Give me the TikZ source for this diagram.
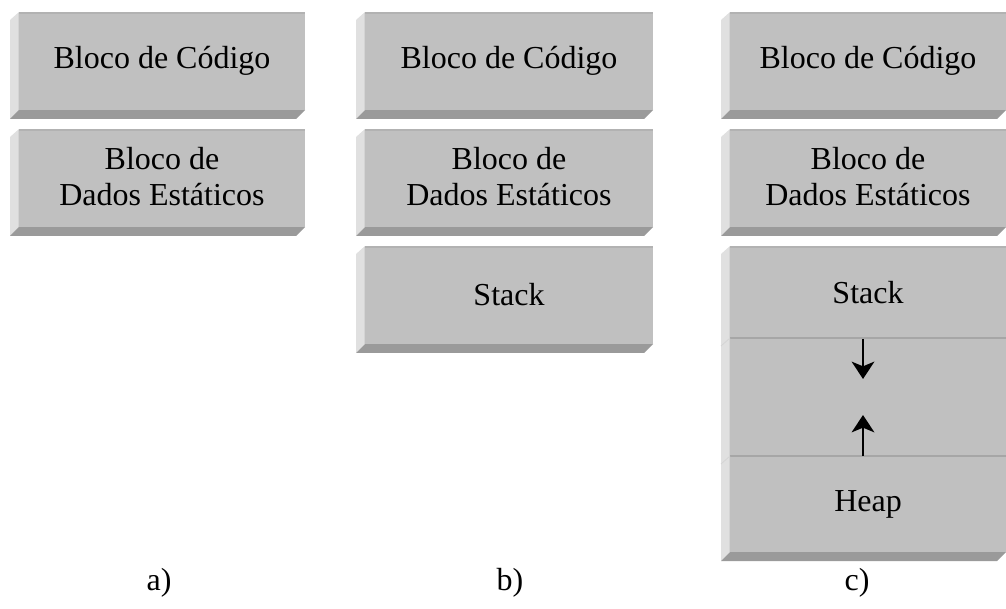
\documentclass[tikz,border=0pt]{standalone}
\usepackage{fontspec}
\setmainfont{Liberation Serif}
\usetikzlibrary{arrows.meta}

\definecolor{face}{HTML}{C0C0C0}
\definecolor{sidelight}{HTML}{E0E0E0}
\definecolor{sideedge}{HTML}{D4D4D4}
\definecolor{sidedark}{HTML}{9A9A9A}
\definecolor{rim}{HTML}{B2B2B2}
\definecolor{seam}{HTML}{A6A6A6}

% bevelled slab: left x, top y, right x, bottom y of the front face
\newcommand\slab[4]{%
  \fill[sidelight] (#1,#2) -- (#1,#4) -- (#1-9,#4+9) -- (#1-9,#2+8) -- cycle;
  \draw[sideedge, line width=1pt] (#1-0.7,#2+1) -- (#1-0.7,#4);
  \fill[sidedark] (#1,#4) -- (#3,#4) -- (#3-9,#4+9) -- (#1-9,#4+9) -- cycle;
  \fill[face] (#1,#2) rectangle (#3,#4);
  \draw[rim, line width=1.3pt] (#1,#2+0.9) -- (#3,#2+0.9);
}

\tikzset{
  lbl/.style={font=\fontsize{24}{27}\selectfont, align=center, inner sep=0pt},
  flow/.style={line width=1.6pt, -{Stealth[length=13pt, width=17pt, inset=3.5pt]}},
  seamline/.style={seam, line width=1.5pt},
}

\begin{document}
\begin{tikzpicture}[x=0.75pt, y=-0.75pt]
  \useasboundingbox (0,0) rectangle (1006,609);

  % column a
  \slab{19}{12}{305}{110}
  \slab{19}{129}{305}{227}
  \node[lbl] (a1) at (162,61) {Bloco de Código};
  \node[lbl] (a2) at (162,177) {Bloco de\\Dados Estáticos};
  \node[lbl] (la) at (159,583) {a)};

  % column b
  \slab{365}{12}{653}{110}
  \slab{365}{129}{653}{227}
  \slab{365}{246}{653}{344}
  \node[lbl] (b1) at (509,61) {Bloco de Código};
  \node[lbl] (b2) at (509,177) {Bloco de\\Dados Estáticos};
  \node[lbl] (b3) at (509,295) {Stack};
  \node[lbl] (lb) at (510,583) {b)};

  % column c
  \slab{730}{12}{1006}{110}
  \slab{730}{129}{1006}{227}
  \slab{730}{246}{1006}{552}
  \draw[seamline] (730,338) -- (1006,338);
  \draw[seamline] (730,456) -- (1006,456);
  \draw[sideedge, line width=0.6pt] (730,338) -- (721,346);
  \draw[sideedge, line width=0.6pt] (730,456) -- (721,464);
  \node[lbl] (c1) at (868,61) {Bloco de Código};
  \node[lbl] (c2) at (868,177) {Bloco de\\Dados Estáticos};
  \node[lbl] (c3) at (868,293) {Stack};
  \node[lbl] (c4) at (868,504) {Heap};
  \node[lbl] (lc) at (857,583) {c)};

  % growth directions of stack and heap
  \coordinate (stacktop) at (863,339);
  \coordinate (stacktip) at (863,379);
  \coordinate (heapbase) at (863,456);
  \coordinate (heaptip) at (863,415);
  \draw[flow] (stacktop) -- (stacktip);
  \draw[flow] (heapbase) -- (heaptip);
\end{tikzpicture}
\end{document}
